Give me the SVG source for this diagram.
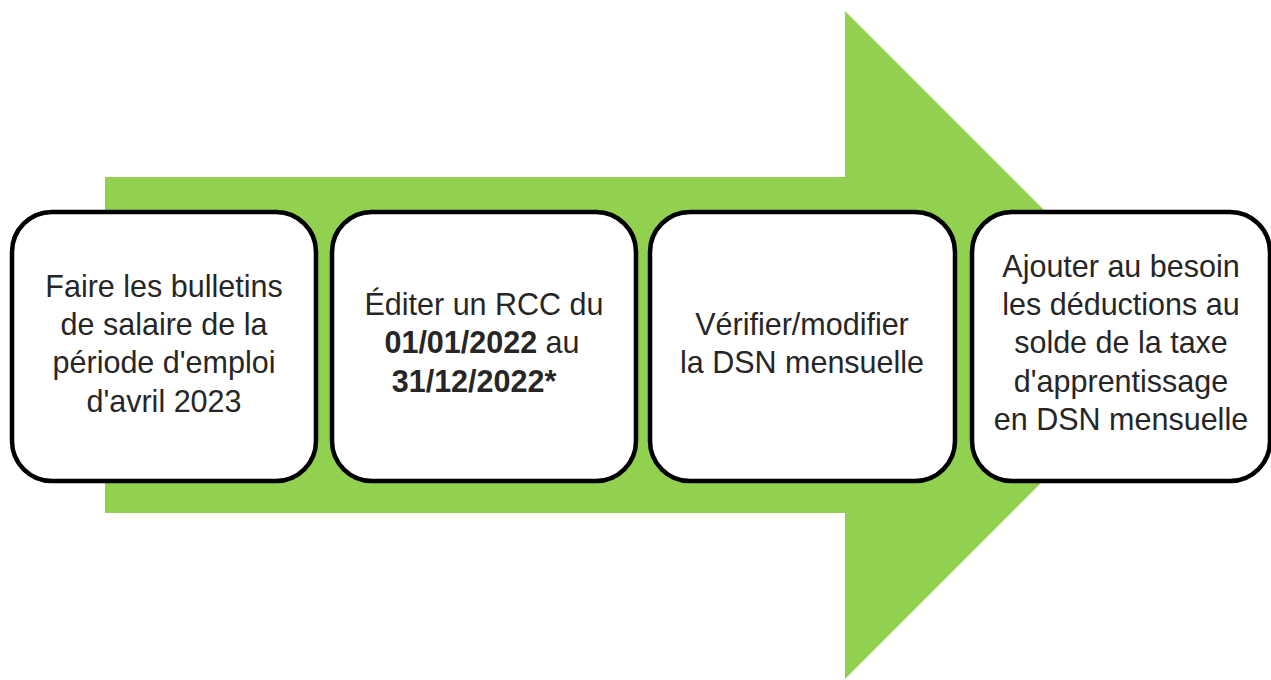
<svg xmlns="http://www.w3.org/2000/svg" width="1271" height="680" viewBox="0 0 1271 680">
<style>
.box{fill:#ffffff;stroke:#000000;stroke-width:4.5}
.t{font-family:"Liberation Sans",Arial,sans-serif;font-size:30.5px;fill:#262626;text-anchor:middle}
.b{font-weight:bold}
</style>
<rect width="1271" height="680" fill="#ffffff"/>
<g id="connectors">
<polygon id="arrow" points="105,177 845,177 845,11 1179,345 845,679 845,513 105,513" fill="#92D050"/>
</g>
<g id="node1">
<rect class="box" x="12" y="212" width="304" height="269" rx="40" ry="40"/>
<text class="t" x="164" y="297">Faire les bulletins</text>
<text class="t" x="164" y="335">de salaire de la</text>
<text class="t" x="164" y="373">période d'emploi</text>
<text class="t" x="164" y="412">d'avril 2023</text>
</g>
<g id="node2">
<rect class="box" x="332" y="212" width="304" height="269" rx="40" ry="40"/>
<text class="t" x="484" y="315">Éditer un RCC du</text>
<text class="t" x="482" y="353"><tspan class="b">01/01/2022</tspan> au</text>
<text class="t b" x="474" y="392">31/12/2022*</text>
</g>
<g id="node3">
<rect class="box" x="650" y="212" width="305" height="269" rx="40" ry="40"/>
<text class="t" x="802" y="335">Vérifier/modifier</text>
<text class="t" x="802" y="373">la DSN mensuelle</text>
</g>
<g id="node4">
<rect class="box" x="972" y="212" width="298" height="269" rx="40" ry="40"/>
<text class="t" x="1121" y="277">Ajouter au besoin</text>
<text class="t" x="1121" y="315">les déductions au</text>
<text class="t" x="1121" y="353">solde de la taxe</text>
<text class="t" x="1121" y="392">d'apprentissage</text>
<text class="t" x="1121" y="430">en DSN mensuelle</text>
</g>
</svg>
